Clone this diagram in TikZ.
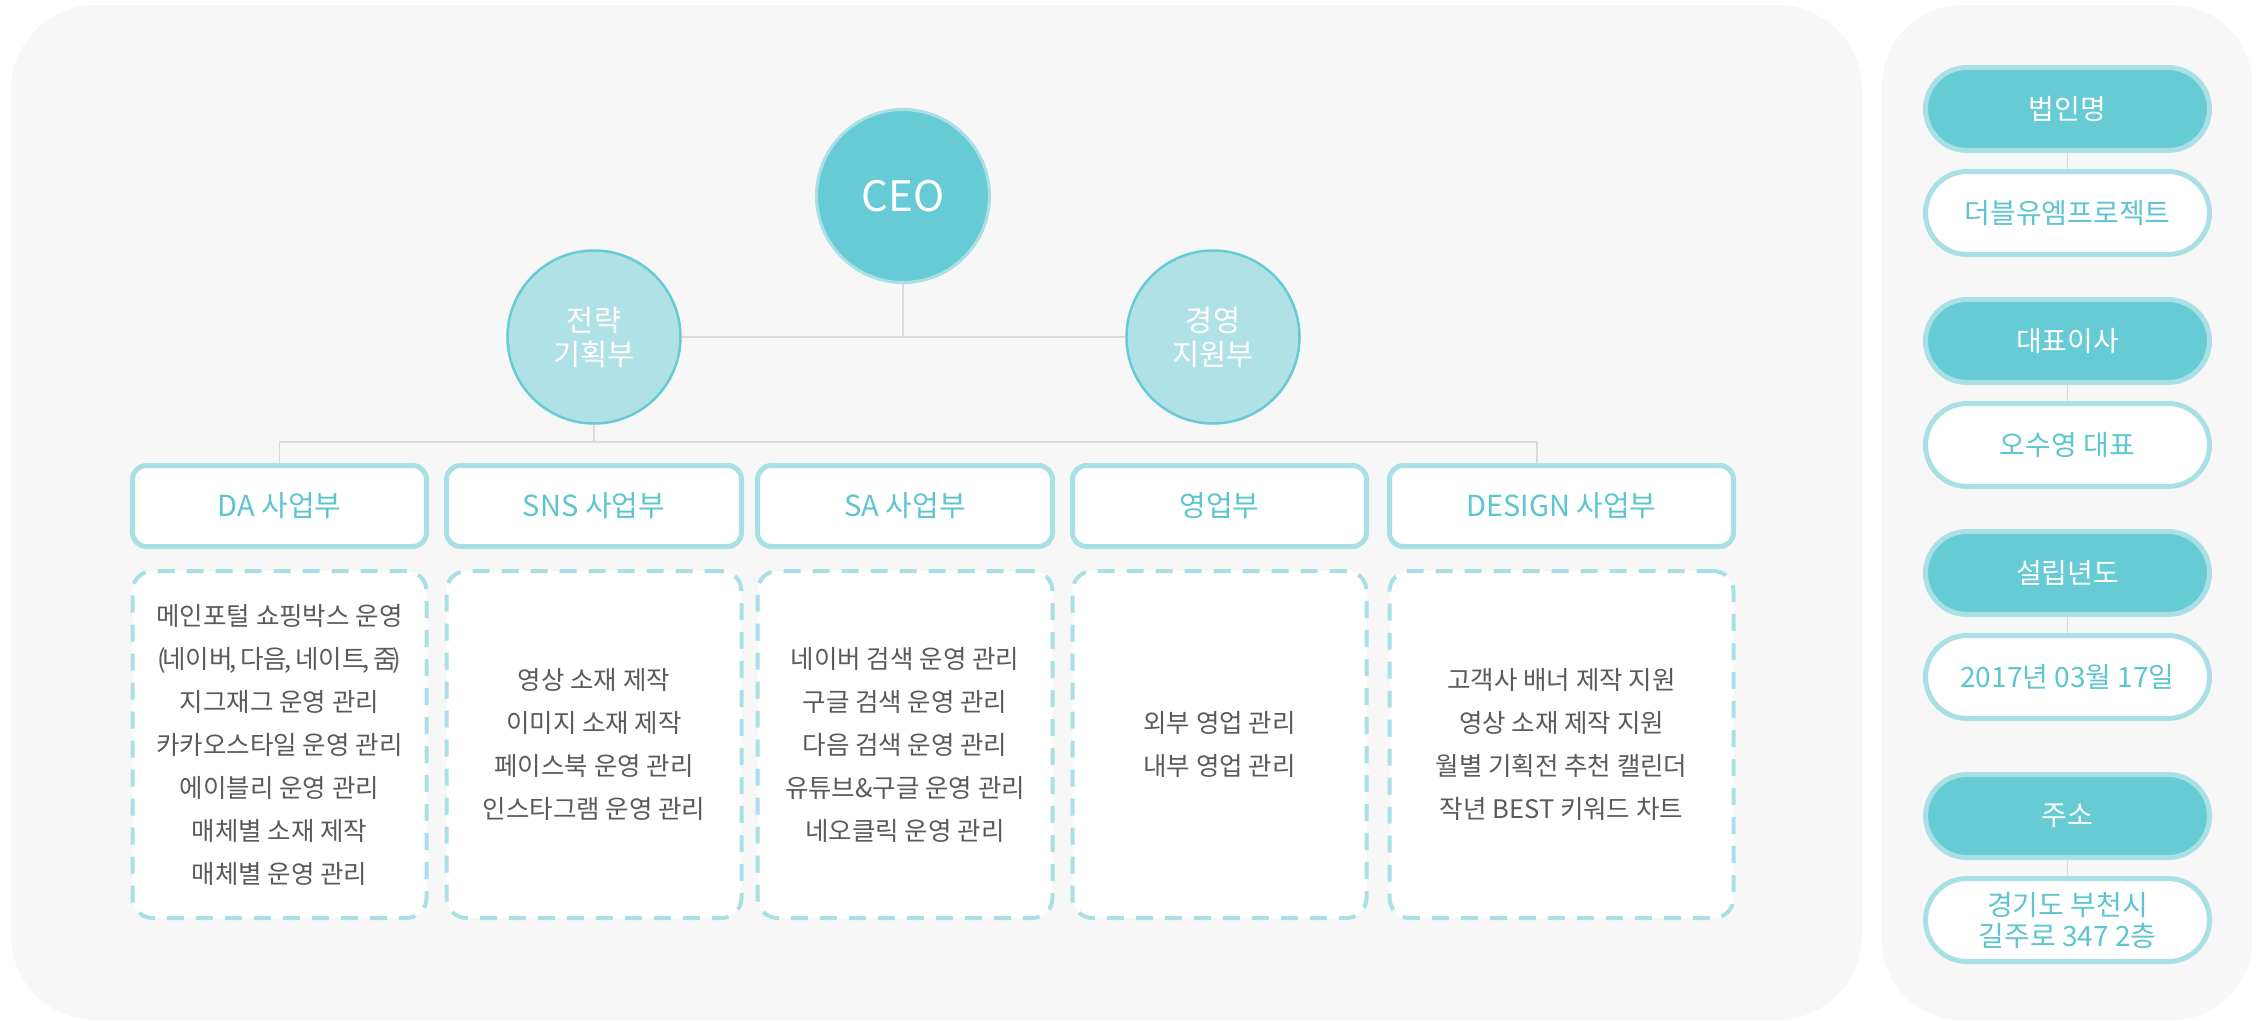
\documentclass[tikz,border=0pt]{standalone}
\usepackage{fontspec}
\setmainfont{Noto Sans CJK KR}
\usetikzlibrary{shapes.misc}
\definecolor{tealA}{HTML}{67CBD5}
\definecolor{tealB}{HTML}{A9E0E6}
\definecolor{tealC}{HTML}{B0E1E6}
\definecolor{tealT}{HTML}{5CC5CF}
\definecolor{panelbg}{HTML}{F7F7F7}
\definecolor{linegray}{HTML}{DADADA}
\definecolor{bodyT}{HTML}{5A5A5A}
\begin{document}
\begin{tikzpicture}[x=1pt,y=-1pt,
  conn/.style={draw=linegray,line width=1.5pt},
  ceo/.style={circle,fill=tealA,draw=tealB,line width=3pt,minimum size=173pt,inner sep=0pt,text=white,font=\fontsize{42}{44}\selectfont},
  dept/.style={circle,fill=tealC,draw=tealA,line width=2.5pt,minimum size=173pt,inner sep=0pt,text=white,align=center,font=\fontsize{29.5}{34}\selectfont},
  unitbox/.style={rectangle,rounded corners=14pt,fill=white,draw=tealB,line width=5pt,minimum height=81pt,minimum width=#1,text=tealT,font=\fontsize{29}{31}\selectfont},
  dutybox/.style={rectangle,rounded corners=20pt,fill=white,draw=tealB,line width=4pt,dash pattern=on 17pt off 12pt,minimum height=347pt,minimum width=#1,text=bodyT,align=center,font=\fontsize{25.5}{43}\selectfont},
  pillhead/.style={rounded rectangle,fill=tealA,draw=tealB,line width=5pt,minimum width=284pt,minimum height=83pt,inner sep=0pt,text=white,font=\fontsize{28}{31}\selectfont},
  pillval/.style={rounded rectangle,fill=white,draw=tealB,line width=5pt,minimum width=284pt,minimum height=83pt,inner sep=0pt,text=tealT,align=center,font=\fontsize{28}{31}\selectfont}
]
\useasboundingbox (0,0) rectangle (2264,1020);
\fill[white] (0,0) rectangle (2264,1020);
% panels
\fill[panelbg,rounded corners=85pt] (11,5) rectangle (1862,1020);
\fill[panelbg,rounded corners=80pt] (1882,5) rectangle (2252,1020);

% top nodes
\node[ceo] (ceo) at (903,196) {CEO};
\node[dept] (sp) at (594,337) {전략\\기획부};
\node[dept] (ms) at (1213,337) {경영\\지원부};

% units
\node[unitbox=294pt] (da) at (279.5,506) {DA 사업부};
\node[unitbox=295pt] (sns) at (594,506) {SNS 사업부};
\node[unitbox=295pt] (sa) at (905,506) {SA 사업부};
\node[unitbox=294pt] (sales) at (1219.5,506) {영업부};
\node[unitbox=344pt] (dsn) at (1561.5,506) {DESIGN 사업부};

% duty boxes
\node[dutybox=294pt] (dad) at (279.5,744.5) {메인포털 쇼핑박스 운영\\(\kern-4pt 네이버\kern-3pt,\hspace{-2pt} 다음\kern-3pt,\hspace{-2pt} 네이트\kern-3pt,\hspace{-2pt} 줌\kern-4pt)\\지그재그 운영 관리\\카카오스타일 운영 관리\\에이블리 운영 관리\\매체별 소재 제작\\매체별 운영 관리};
\node[dutybox=295pt] (snsd) at (594,744.5) {영상 소재 제작\\이미지 소재 제작\\페이스북 운영 관리\\인스타그램 운영 관리};
\node[dutybox=295pt] (sad) at (905,744.5) {네이버 검색 운영 관리\\구글 검색 운영 관리\\다음 검색 운영 관리\\유튜브\&구글 운영 관리\\네오클릭 운영 관리};
\node[dutybox=294pt] (salesd) at (1219.5,744.5) {외부 영업 관리\\내부 영업 관리};
\node[dutybox=344pt] (dsnd) at (1561.5,744.5) {고객사 배너 제작 지원\\영상 소재 제작 지원\\월별 기획전 추천 캘린더\\작년 BEST 키워드 차트};

% connectors
\draw[conn] (ceo.south) -- (ceo.south |- sp.east);
\draw[conn] (sp.east) -- (ms.west);
\draw[conn] (sp.south) -- ++(0,17) coordinate (bar);
\coordinate (dsnx) at ([xshift=150pt]dsn.north west);
\draw[conn] (da.north) -- (da.north |- bar) -- (dsnx |- bar) -- (dsnx);

% right panel
\node[pillhead] (h1) at (2067.5,109) {법인명};
\node[pillval] (v1) at (2067.5,213) {더블유엠프로젝트};
\node[pillhead] (h2) at (2067.5,341) {대표이사};
\node[pillval] (v2) at (2067.5,445) {오수영 대표};
\node[pillhead] (h3) at (2067.5,573) {설립년도};
\node[pillval] (v3) at (2067.5,677) {2017년 03월 17일};
\node[pillhead] (h4) at (2067.5,816) {주소};
\node[pillval] (v4) at (2067.5,920) {경기도 부천시\\길주로 347 2층};
\draw[conn] (h1.south) -- (v1.north);
\draw[conn] (h2.south) -- (v2.north);
\draw[conn] (h3.south) -- (v3.north);
\draw[conn] (h4.south) -- (v4.north);
\end{tikzpicture}
\end{document}
